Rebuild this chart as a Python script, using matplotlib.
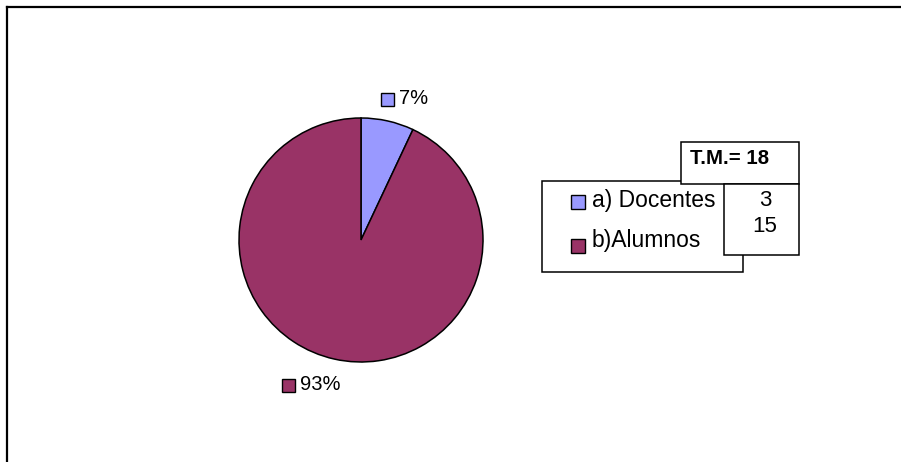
import matplotlib.pyplot as plt
from matplotlib.patches import Rectangle

plt.rcParams['font.family'] = ['Liberation Sans', 'DejaVu Sans']

labels = ['a) Docentes', 'b)Alumnos']
counts = [3, 15]
pcts = [7, 93]
pct_labels = ['7%', '93%']
colors = ['#9999FF', '#993366']
total_label = 'T.M.= 18'

W, H = 901, 462
fig = plt.figure(figsize=(W / 100, H / 100), dpi=100)
ax = fig.add_axes([0, 0, 1, 1])

# pie (y axis inverted -> visual clockwise from top)
ax.pie(pcts, colors=colors, center=(361, 240), radius=122, startangle=270,
       counterclock=True, wedgeprops=dict(edgecolor='black', linewidth=1.1),
       frame=True)
ax.set_xlim(0, W)
ax.set_ylim(H, 0)
ax.set_aspect('equal')
ax.axis('off')

# outer frame (only top and left visible)
ax.plot([7, W + 5], [7, 7], color='black', lw=1.6, solid_capstyle='projecting')
ax.plot([7, 7], [7, H + 5], color='black', lw=1.6, solid_capstyle='projecting')

# percentage labels
lab_pos = [(381, 93), (282, 379)]
for (x, y), txt, c in zip(lab_pos, pct_labels, colors):
    ax.add_patch(Rectangle((x, y), 13, 13, facecolor=c, edgecolor='black', lw=1))
    ax.text(x + 18, y + 5, txt, fontsize=14.5, va='center', ha='left')

# legend box
ax.add_patch(Rectangle((542, 181), 201, 91, facecolor='white', edgecolor='black', lw=1.1))
for y, ty, lab, c in zip([195, 239], [200, 241], labels, colors):
    ax.add_patch(Rectangle((571, y), 14, 14, facecolor=c, edgecolor='black', lw=1))
    ax.text(592, ty, lab, fontsize=16.5, va='center', ha='left')

# data table
ax.add_patch(Rectangle((681, 142), 118, 42, facecolor='white', edgecolor='black', lw=1.1))
ax.text(690, 159, total_label, fontsize=14.7, fontweight='bold', va='center', ha='left')
ax.add_patch(Rectangle((724, 184), 75, 71, facecolor='white', edgecolor='black', lw=1.1))
for y, v in zip([200, 227], counts):
    ax.text(765, y, str(v), fontsize=16, va='center', ha='center')

fig.savefig('out.png', dpi=100)
